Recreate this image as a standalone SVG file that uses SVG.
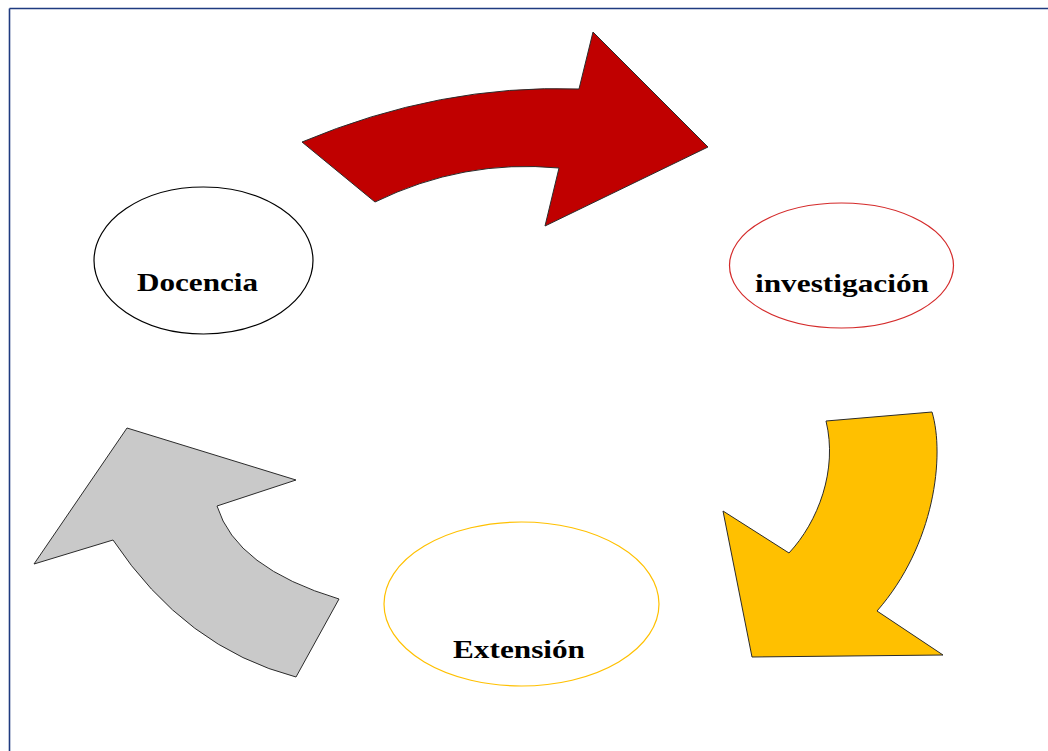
<svg xmlns="http://www.w3.org/2000/svg" width="1048" height="751" viewBox="0 0 1048 751">
<style>
.arrow{stroke:#2b2b2b;stroke-width:1;stroke-linejoin:miter}
.node{fill:#ffffff;stroke-width:1.2}
.lbl{font-family:"Liberation Serif","Times New Roman",serif;font-weight:bold;font-size:26px;fill:#000}
</style>
<rect x="0" y="0" width="1048" height="751" fill="#ffffff"/>
<g id="frame" fill="none" stroke="#1F3B80" stroke-width="1.6">
<line x1="9.5" y1="8.5" x2="1048" y2="8.5"/>
<line x1="9.5" y1="8.5" x2="9.5" y2="751"/>
</g>
<g id="connectors">
<path id="arrow-red" class="arrow" fill="#C00000" d="M302,142 Q440,84 579,89 L593,32 L708,147 L545,226 L559,168 Q463,159 375,202 Z"/>
<path id="arrow-yellow" class="arrow" fill="#FFC000" d="M826,421 L932,412 C945,455 935,545 877,611 L943,655 L752,657 L723,511 L789,553 C818,522 838,470 826,421 Z"/>
<path id="arrow-gray" class="arrow" fill="#C9C9C9" d="M339,599 L296,677 Q185,648 113,540 L34,564 L127,428 L296,480 L217,506 Q236,568 339,599 Z"/>
</g>
<g id="docencia">
<ellipse class="node" cx="203.5" cy="260.5" rx="109.5" ry="73.5" stroke="#000000"/>
<text class="lbl" x="137" y="291" textLength="121" lengthAdjust="spacingAndGlyphs">Docencia</text>
</g>
<g id="investigacion">
<ellipse class="node" cx="841.5" cy="265.5" rx="112" ry="62.5" stroke="#D42A2A"/>
<text class="lbl" x="755" y="292" textLength="174" lengthAdjust="spacingAndGlyphs">investigación</text>
</g>
<g id="extension">
<ellipse class="node" cx="521.5" cy="604" rx="137.5" ry="82" stroke="#FFC000"/>
<text class="lbl" x="453" y="658" textLength="132" lengthAdjust="spacingAndGlyphs">Extensión</text>
</g>
</svg>
